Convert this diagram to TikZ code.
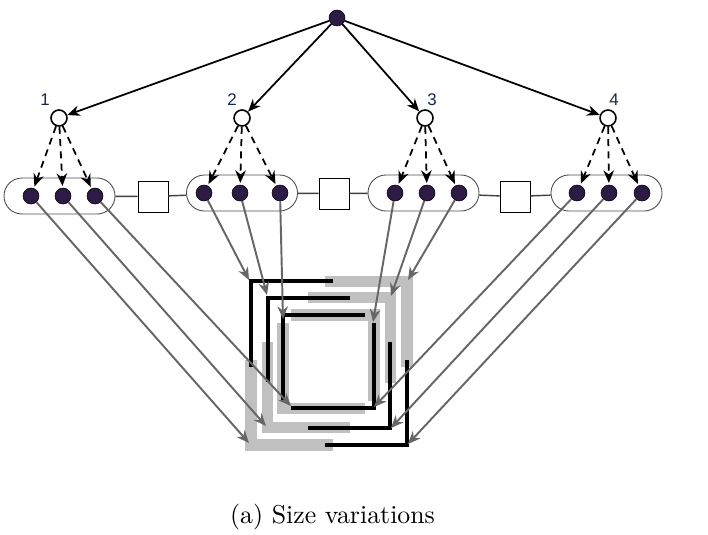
\documentclass[tikz,border=0pt]{standalone}
\usepackage{fontspec}
\newfontfamily\labelfont{Liberation Sans}
\usetikzlibrary{arrows.meta}
\definecolor{darkdot}{HTML}{2D1B45}
\definecolor{barcolor}{HTML}{C0C0C0}
\definecolor{linkcolor}{HTML}{666666}
\definecolor{numcolor}{HTML}{14264A}

\begin{document}
\begin{tikzpicture}[>={Stealth[length=3.6pt,width=3pt]},
  % The nodes:
  dot/.style={circle, fill=darkdot, draw=black, line width=0.15pt, minimum size=0.16cm, inner sep=0pt},
  hollow/.style={circle, fill=white, draw=black, line width=0.45pt, minimum size=0.16cm, inner sep=0pt},
  group/.style={rectangle, draw=black!70, line width=0.25pt, rounded corners=0.179cm,
      minimum width=1.11cm, minimum height=0.36cm, inner sep=0pt},
  box/.style={rectangle, fill=white, draw=black, line width=0.27pt, minimum width=0.30cm,
      minimum height=0.31cm, inner sep=0pt},
  num/.style={text=numcolor, inner sep=0pt, font=\labelfont\fontsize{4.8}{5}\selectfont},
  caption/.style={scale=0.735, inner sep=0pt},
  % The lines:
  bar/.style={barcolor, line width=3.4pt, line join=miter},
  frame/.style={black, line width=0.95pt, line join=miter},
  tree/.style={black, line width=0.5pt, ->},
  pick/.style={black, line width=0.5pt, ->, dash pattern=on 2pt off 1.5pt, shorten >=0.5pt},
  link/.style={linkcolor, line width=0.55pt, ->},
  wire/.style={black!75, line width=0.4pt}]
  \useasboundingbox (0,0) rectangle (7.08,-5.34);

  % Grey pieces
  \draw [bar] (3.25,-2.815) -- (4.07,-2.815) -- (4.07,-3.67);
  \draw [bar] (3.08,-2.975) -- (3.905,-2.975) -- (3.905,-3.83);
  \draw [bar] (2.91,-3.15) -- (3.74,-3.15) -- (3.74,-4.01);
  \draw [bar] (2.83,-3.23) -- (2.83,-4.085) -- (3.65,-4.085);
  \draw [bar] (2.675,-3.42) -- (2.675,-4.275) -- (3.50,-4.275);
  \draw [bar] (2.51,-3.60) -- (2.51,-4.45) -- (3.33,-4.45);

  % Black pieces
  \draw [frame] (3.33,-2.81) -- (2.51,-2.81) -- (2.51,-3.67);
  \draw [frame] (3.50,-2.98) -- (2.68,-2.98) -- (2.68,-3.82);
  \draw [frame] (3.65,-3.15) -- (2.83,-3.15) -- (2.83,-4.02);
  \draw [frame] (3.74,-3.23) -- (3.74,-4.08) -- (2.91,-4.08);
  \draw [frame] (3.90,-3.42) -- (3.90,-4.28) -- (3.08,-4.28);
  \draw [frame] (4.07,-3.60) -- (4.07,-4.45) -- (3.25,-4.45);

  % Groups and boxes
  \node [group] (g1) at (0.595,-1.96) {};
  \node [group] (g2) at (2.42,-1.93) {};
  \node [group] (g3) at (4.235,-1.93) {};
  \node [group] (g4) at (6.065,-1.93) {};
  \node [box] (s1) at (1.53,-1.965) {};
  \node [box] (s2) at (3.34,-1.935) {};
  \node [box] (s3) at (5.15,-1.965) {};

  \draw [wire] (g1) -- (s1);
  \draw [wire] (s1) -- (g2);
  \draw [wire] (g2) -- (s2);
  \draw [wire] (s2) -- (g3);
  \draw [wire] (g3) -- (s3);
  \draw [wire] (s3) -- (g4);

  % The tree
  \node [dot] (root) at (3.37,-0.18) {};
  \node [hollow] (c1) at (0.59,-1.18) {};
  \node [hollow] (c2) at (2.42,-1.18) {};
  \node [hollow] (c3) at (4.25,-1.18) {};
  \node [hollow] (c4) at (6.08,-1.18) {};
  \node [num] (n1) at (0.45,-1.00) {1};
  \node [num] (n2) at (2.32,-1.00) {2};
  \node [num] (n3) at (4.32,-1.00) {3};
  \node [num] (n4) at (6.14,-1.00) {4};

  \node [dot] (a1) at (0.31,-1.96) {};
  \node [dot] (a2) at (0.63,-1.96) {};
  \node [dot] (a3) at (0.95,-1.96) {};
  \node [dot] (b1) at (2.04,-1.93) {};
  \node [dot] (b2) at (2.40,-1.93) {};
  \node [dot] (b3) at (2.80,-1.93) {};
  \node [dot] (d1) at (3.95,-1.93) {};
  \node [dot] (d2) at (4.27,-1.93) {};
  \node [dot] (d3) at (4.59,-1.93) {};
  \node [dot] (e1) at (5.77,-1.93) {};
  \node [dot] (e2) at (6.09,-1.93) {};
  \node [dot] (e3) at (6.42,-1.93) {};

  \draw [tree] (root) -- (c1);
  \draw [tree] (root) -- (c2);
  \draw [tree] (root) -- (c3);
  \draw [tree] (root) -- (c4);

  \draw [pick] (c1) -- (a1);
  \draw [pick] (c1) -- (a2);
  \draw [pick] (c1) -- (a3);
  \draw [pick] (c2) -- (b1);
  \draw [pick] (c2) -- (b2);
  \draw [pick] (c2) -- (b3);
  \draw [pick] (c3) -- (d1);
  \draw [pick] (c3) -- (d2);
  \draw [pick] (c3) -- (d3);
  \draw [pick] (c4) -- (e1);
  \draw [pick] (c4) -- (e2);
  \draw [pick] (c4) -- (e3);

  % Free ends on the pieces
  \coordinate (ta1) at (2.49,-4.43);
  \coordinate (ta2) at (2.66,-4.26);
  \coordinate (ta3) at (2.91,-4.06);
  \coordinate (tb1) at (2.49,-2.80);
  \coordinate (tb2) at (2.67,-2.95);
  \coordinate (tb3) at (2.83,-3.19);
  \coordinate (td1) at (3.73,-3.22);
  \coordinate (td2) at (3.91,-2.96);
  \coordinate (td3) at (4.08,-2.80);
  \coordinate (te1) at (3.74,-4.07);
  \coordinate (te2) at (3.91,-4.28);
  \coordinate (te3) at (4.08,-4.44);

  \draw [link] (a1) -- (ta1);
  \draw [link] (a2) -- (ta2);
  \draw [link] (a3) -- (ta3);
  \draw [link] (b1) -- (tb1);
  \draw [link] (b2) -- (tb2);
  \draw [link] (b3) -- (tb3);
  \draw [link] (d1) -- (td1);
  \draw [link] (d2) -- (td2);
  \draw [link] (d3) -- (td3);
  \draw [link] (e1) -- (te1);
  \draw [link] (e2) -- (te2);
  \draw [link] (e3) -- (te3);

  \node [caption] (cap) at (3.325,-5.175) {(a) Size variations};
\end{tikzpicture}
\end{document}
